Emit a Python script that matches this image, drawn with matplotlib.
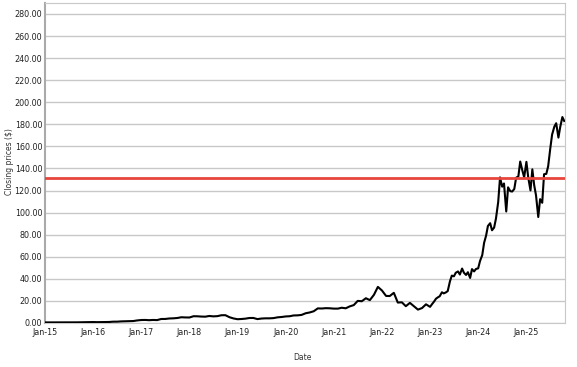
import pandas as pd
import matplotlib.pyplot as plt
import matplotlib.dates as mdates

# monthly closes 2015-2022 (split adjusted)
dates_early = pd.date_range("2015-01-01", "2022-12-01", freq="MS")
close_early = [
    0.50, 0.50, 0.55, 0.52, 0.55, 0.55, 0.50, 0.50, 0.56, 0.62, 0.71, 0.80,
    0.82, 0.73, 0.78, 0.89, 0.89, 1.16, 1.18, 1.42, 1.53, 1.71, 1.74, 2.30,
    2.67, 2.73, 2.52, 2.72, 2.60, 3.60, 3.62, 4.06, 4.20, 4.50, 5.17, 5.00,
    4.95, 6.10, 6.05, 5.80, 5.70, 6.32, 5.98, 6.17, 7.00, 7.03, 5.20, 4.10,
    3.40, 3.60, 3.90, 4.50, 4.53, 3.50, 4.00, 4.20, 4.20, 4.40, 5.10, 5.40,
    5.90, 6.10, 6.80, 6.90, 7.30, 8.80, 9.50, 10.60, 13.20, 13.10, 13.40, 13.30,
    13.00, 13.00, 13.80, 13.30, 15.00, 16.20, 20.00, 19.70, 22.40, 20.70, 25.50, 32.70,
    29.40, 24.50, 24.40, 27.30, 18.50, 18.70, 15.20, 18.20, 15.10, 12.10, 13.50, 16.90,
]

# twice a month from 2023 on
dates_late = pd.date_range("2023-01-01", "2025-10-15", freq="SMS")
close_late = [
    14.6, 16.9, 19.5, 22.0, 23.2, 24.2, 27.8, 26.8, 27.7, 28.9, 37.8, 42.9,
    42.3, 45.5, 46.7, 43.9, 49.3, 45.5, 43.5, 46.0, 40.8, 48.8, 46.7, 48.9,
    49.5, 56.1, 61.5, 72.6, 79.1, 87.9, 90.4, 84.0, 86.4, 94.6, 109.6, 131.9,
    123.5, 126.4, 101.0, 122.9, 119.4, 119.1, 121.4, 131.6, 132.8, 146.3, 138.3, 132.0,
    146.0, 131.8, 120.1, 139.2, 124.9, 115.6, 96.0, 112.2, 108.9, 134.8, 135.1, 141.9,
    158.0, 170.7, 177.9, 181.0, 168.0, 177.8, 186.6, 183.0,
]

ref_price = 131

dates = list(dates_early) + list(dates_late)
close = close_early + close_late

fig = plt.figure(figsize=(5.77, 3.67), dpi=100)
ax = fig.add_axes([0.078, 0.12, 0.901, 0.872])

ax.plot(dates, close, color="black", linewidth=1.5, zorder=3)
ax.axhline(ref_price, color="#e8453c", linewidth=2, zorder=4)

ax.set_xlim(pd.Timestamp("2015-01-01"), pd.Timestamp("2025-10-20"))
ax.set_ylim(0, 290)
ax.set_yticks(range(0, 281, 20))
ax.yaxis.set_major_formatter(lambda v, p: f"{v:.2f}")
ax.xaxis.set_major_locator(mdates.YearLocator())
ax.xaxis.set_major_formatter(mdates.DateFormatter("%b-%y"))

ax.grid(axis="y", color="#c8c8c8", linewidth=1)
ax.set_axisbelow(True)
ax.tick_params(length=0, labelsize=5.8, pad=2, colors="#222222")
ax.tick_params(axis="x", pad=3.5)
for side in ["top", "right", "bottom"]:
    ax.spines[side].set_color("#c8c8c8")
ax.spines["left"].set_color("#aaaaaa")
ax.spines["left"].set_linewidth(1.5)

fig.text(0.016, 0.56, "Closing prices ($)", fontsize=5.5, rotation=90,
         ha="center", va="center", color="#333333")
fig.text(0.525, 0.02, "Date", fontsize=5.5, ha="center", color="#333333")

fig.savefig("out.png", dpi=100)
